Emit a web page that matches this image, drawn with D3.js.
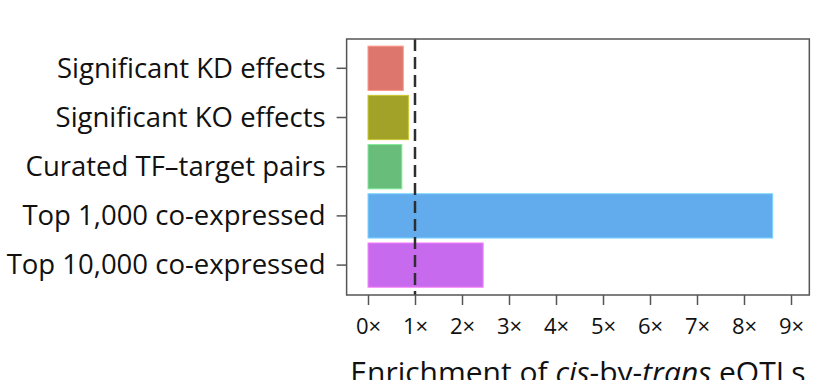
<!DOCTYPE html>
<html><head><meta charset="utf-8">
<script src="https://cdn.jsdelivr.net/npm/d3@7"></script>
<style>body{margin:0;background:#fff}svg{display:block}text{font-family:"Open Sans",sans-serif;fill:#111}</style>
</head><body>
<svg id="c" width="814" height="380"></svg>
<script>
const categories = ["Significant KD effects","Significant KO effects","Curated TF\u2013target pairs","Top 1,000 co-expressed","Top 10,000 co-expressed"];
const values = [0.75, 0.86, 0.72, 8.61, 2.45];
const colors = ["#DD776D","#A3A228","#69BD7B","#62ACEE","#C86AEE"];
const xTicks = [0,1,2,3,4,5,6,7,8,9];
const refLine = 1;

const svg = d3.select("#c");
const x = d3.scaleLinear().domain([0,9]).range([368,791]);
const y = d3.scaleBand().domain(categories).range([43.7,289.7]).paddingInner(0.1).paddingOuter(0.05);
const boxL = x(-0.455), boxR = x(9.39), boxT = 39, boxB = 295;

svg.selectAll("rect.bar").data(categories).join("rect")
  .attr("class","bar")
  .attr("x", x(0))
  .attr("y", d=>y(d))
  .attr("width", (d,i)=>x(values[i])-x(0))
  .attr("height", y.bandwidth())
  .attr("fill",(d,i)=>colors[i])
  .attr("stroke",(d,i)=>d3.color(colors[i]).brighter(0.6))
  .attr("stroke-width",1);

svg.append("line").attr("x1",x(refLine)).attr("x2",x(refLine)).attr("y1",boxT).attr("y2",boxB)
  .attr("stroke","#2e2e2e").attr("stroke-width",2.5).attr("stroke-dasharray","12,6");

svg.append("rect").attr("x",boxL).attr("y",boxT).attr("width",boxR-boxL).attr("height",boxB-boxT)
  .attr("fill","none").attr("stroke","#555").attr("stroke-width",1.5);

const xAxis = svg.append("g").attr("transform",`translate(0,${boxB})`)
  .call(d3.axisBottom(x).tickValues(xTicks).tickSize(10).tickPadding(0).tickFormat(d=>d+"\u00d7"));
xAxis.select(".domain").remove();
xAxis.selectAll("line").attr("stroke","#555").attr("stroke-width",1.5);
xAxis.selectAll("text").attr("font-size",22).attr("fill","#111").attr("dy",null).attr("y",39);

const yAxis = svg.append("g").attr("transform",`translate(${boxL},0)`)
  .call(d3.axisLeft(y).tickSize(10).tickPadding(11));
yAxis.select(".domain").remove();
yAxis.selectAll("line").attr("stroke","#555").attr("stroke-width",1.5);
yAxis.selectAll("text").attr("font-size",27.5).attr("fill","#111").attr("dy","0.34em");

const t = svg.append("text").attr("x",(boxL+boxR)/2).attr("y",383).attr("text-anchor","middle").attr("font-size",30);
t.append("tspan").text("Enrichment of ");
t.append("tspan").attr("font-style","italic").text("cis");
t.append("tspan").text("-by-");
t.append("tspan").attr("font-style","italic").text("trans");
t.append("tspan").text(" eQTLs");
</script>
</body></html>
